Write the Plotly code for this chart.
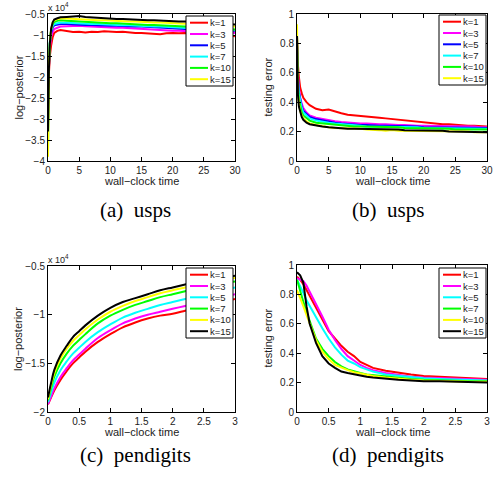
import plotly.graph_objects as go

W, H = 497, 478

# ---------------- data ----------------
T_USPS = [0, 0.05, 0.15, 0.3, 0.5, 0.75, 1, 1.5, 2, 3, 4, 5, 6, 7, 8, 9, 10, 11, 12, 13,
          14, 15, 16, 17, 18, 19, 20, 21, 22, 23, 24, 25, 26, 27, 28, 29, 30]

# (a) usps log-posterior (x 10^4)
A_K1 = [-2.3, -2.1, -1.8, -1.5, -1.25, -1.05, -0.95, -0.9, -0.88, -0.91, -0.93, -0.92, -0.94, -0.92,
        -0.93, -0.91, -0.92, -0.93, -0.92, -0.94, -0.95, -0.95, -0.96, -0.97, -0.98, -0.96, -0.95,
        -0.96, -0.95, -0.97, -0.96, -0.97, -0.98, -0.97, -0.99, -1.0, -1.03]
A_K3 = [-2.2, -2.0, -1.6, -1.3, -1.05, -0.92, -0.86, -0.82, -0.8, -0.79, -0.78, -0.78, -0.79, -0.8,
        -0.8, -0.81, -0.82, -0.83, -0.83, -0.84, -0.85, -0.86, -0.86, -0.87, -0.88, -0.89, -0.9,
        -0.9, -0.91, -0.91, -0.92, -0.92, -0.93, -0.93, -0.94, -0.94, -0.95]
A_K5 = [-2.3, -2.0, -1.55, -1.2, -0.95, -0.82, -0.77, -0.75, -0.74, -0.74, -0.75, -0.75, -0.76, -0.76,
        -0.77, -0.77, -0.78, -0.78, -0.79, -0.79, -0.8, -0.8, -0.81, -0.82, -0.83, -0.84, -0.85,
        -0.85, -0.86, -0.86, -0.87, -0.87, -0.88, -0.88, -0.89, -0.89, -0.9]
A_K7 = [-2.5, -2.1, -1.5, -1.15, -0.9, -0.78, -0.74, -0.72, -0.71, -0.71, -0.72, -0.72, -0.73, -0.74,
        -0.74, -0.75, -0.76, -0.76, -0.77, -0.77, -0.78, -0.78, -0.79, -0.8, -0.8, -0.81, -0.82,
        -0.82, -0.83, -0.84, -0.84, -0.85, -0.85, -0.86, -0.87, -0.87, -0.88]
A_K10 = [-3.8, -2.5, -1.7, -1.2, -0.88, -0.74, -0.69, -0.66, -0.65, -0.66, -0.67, -0.68, -0.68, -0.69,
         -0.7, -0.71, -0.72, -0.72, -0.73, -0.74, -0.74, -0.75, -0.76, -0.76, -0.77, -0.78, -0.78,
         -0.79, -0.8, -0.8, -0.81, -0.82, -0.83, -0.84, -0.85, -0.86, -0.87]
A_K15 = [-3.9, -2.8, -1.75, -1.2, -0.85, -0.7, -0.65, -0.62, -0.61, -0.61, -0.62, -0.62, -0.63, -0.64,
         -0.65, -0.65, -0.66, -0.67, -0.67, -0.68, -0.68, -0.69, -0.69, -0.7, -0.7, -0.71, -0.72,
         -0.72, -0.73, -0.73, -0.74, -0.75, -0.76, -0.77, -0.78, -0.79, -0.8]
A_BLACK = [-3.3, -2.6, -1.8, -1.2, -0.85, -0.7, -0.63, -0.6, -0.58, -0.57, -0.56, -0.55, -0.57, -0.58,
           -0.6, -0.6, -0.61, -0.62, -0.62, -0.63, -0.64, -0.64, -0.65, -0.65, -0.66, -0.66, -0.67,
           -0.68, -0.68, -0.69, -0.7, -0.7, -0.71, -0.72, -0.73, -0.74, -0.75]

# (b) usps testing error
B_K1 = [0.85, 0.75, 0.65, 0.57, 0.5, 0.46, 0.43, 0.4, 0.38, 0.355, 0.345, 0.35, 0.335, 0.325, 0.315,
        0.31, 0.305, 0.3, 0.3, 0.295, 0.29, 0.285, 0.28, 0.28, 0.275, 0.265, 0.26, 0.26, 0.255, 0.25,
        0.25, 0.245, 0.245, 0.24, 0.24, 0.235, 0.235]
B_K3 = [0.8, 0.7, 0.6, 0.5, 0.43, 0.39, 0.36, 0.33, 0.31, 0.295, 0.285, 0.275, 0.27, 0.265, 0.26,
        0.26, 0.255, 0.255, 0.25, 0.25, 0.25, 0.245, 0.245, 0.245, 0.24, 0.24, 0.24, 0.24, 0.24, 0.24,
        0.235, 0.235, 0.235, 0.235, 0.235, 0.23, 0.23]
B_K5 = [0.8, 0.68, 0.57, 0.47, 0.41, 0.37, 0.34, 0.32, 0.3, 0.285, 0.275, 0.265, 0.26, 0.255, 0.25,
        0.25, 0.245, 0.245, 0.24, 0.24, 0.24, 0.24, 0.235, 0.235, 0.235, 0.235, 0.23, 0.23, 0.23, 0.23,
        0.23, 0.225, 0.225, 0.225, 0.225, 0.225, 0.225]
B_K7 = [0.78, 0.66, 0.55, 0.46, 0.4, 0.36, 0.33, 0.31, 0.29, 0.275, 0.265, 0.26, 0.255, 0.25, 0.245,
        0.24, 0.24, 0.235, 0.235, 0.235, 0.235, 0.23, 0.23, 0.23, 0.23, 0.23, 0.225, 0.225, 0.225, 0.225,
        0.22, 0.22, 0.22, 0.22, 0.22, 0.22, 0.22]
B_K10 = [0.86, 0.62, 0.5, 0.42, 0.37, 0.33, 0.31, 0.29, 0.275, 0.26, 0.255, 0.25, 0.245, 0.24, 0.24,
         0.235, 0.235, 0.235, 0.23, 0.23, 0.23, 0.23, 0.23, 0.225, 0.225, 0.225, 0.225, 0.22, 0.22, 0.22,
         0.22, 0.215, 0.215, 0.215, 0.215, 0.215, 0.215]
B_K15 = [0.93, 0.6, 0.46, 0.39, 0.34, 0.31, 0.29, 0.27, 0.255, 0.245, 0.235, 0.23, 0.225, 0.225, 0.22,
         0.22, 0.22, 0.215, 0.215, 0.21, 0.205, 0.21, 0.205, 0.205, 0.205, 0.2, 0.205, 0.2, 0.2, 0.2,
         0.2, 0.2, 0.2, 0.2, 0.195, 0.195, 0.195]
B_BLACK = [0.85, 0.6, 0.45, 0.37, 0.33, 0.3, 0.28, 0.26, 0.25, 0.24, 0.235, 0.23, 0.225, 0.225, 0.22,
           0.22, 0.22, 0.22, 0.215, 0.22, 0.22, 0.215, 0.215, 0.21, 0.21, 0.21, 0.21, 0.205, 0.205,
           0.205, 0.2, 0.2, 0.2, 0.2, 0.2, 0.195, 0.195]

# (c) pendigits log-posterior (x 10^4)
T_PEN_C = [0, 0.05, 0.1, 0.2, 0.3, 0.4, 0.5, 0.6, 0.8, 1.0, 1.2, 1.4, 1.6, 1.8, 2.0, 2.2, 2.4, 2.6, 2.8, 3.0]
C_K1 = [-1.92, -1.85, -1.78, -1.67, -1.58, -1.5, -1.44, -1.38, -1.28, -1.2, -1.13, -1.08, -1.04, -1.01,
        -0.99, -0.96, -0.93, -0.9, -0.87, -0.84]
C_K3 = [-1.92, -1.84, -1.76, -1.64, -1.55, -1.47, -1.41, -1.35, -1.24, -1.16, -1.09, -1.04, -1.0, -0.97,
        -0.94, -0.91, -0.88, -0.85, -0.82, -0.79]
C_K5 = [-1.9, -1.8, -1.7, -1.57, -1.48, -1.4, -1.34, -1.28, -1.18, -1.1, -1.03, -0.98, -0.94, -0.9,
        -0.87, -0.84, -0.81, -0.78, -0.75, -0.72]
C_K7 = [-1.88, -1.75, -1.64, -1.5, -1.4, -1.32, -1.26, -1.2, -1.09, -1.01, -0.95, -0.9, -0.86, -0.82,
        -0.79, -0.76, -0.73, -0.71, -0.68, -0.66]
C_K10 = [-1.87, -1.72, -1.6, -1.45, -1.35, -1.27, -1.21, -1.15, -1.05, -0.97, -0.91, -0.86, -0.82, -0.78,
         -0.75, -0.72, -0.7, -0.67, -0.65, -0.62]
C_K15 = [-1.85, -1.7, -1.57, -1.42, -1.32, -1.23, -1.17, -1.11, -1.01, -0.93, -0.87, -0.83, -0.79, -0.75,
         -0.72, -0.69, -0.66, -0.64, -0.62, -0.6]

# (d) pendigits testing error
T_PEN_D = [0, 0.05, 0.1, 0.15, 0.2, 0.3, 0.4, 0.5, 0.6, 0.7, 0.8, 0.9, 1.0, 1.1, 1.2, 1.4, 1.6, 1.8,
           2.0, 2.25, 2.5, 2.75, 3.0]
D_K1 = [0.92, 0.9, 0.87, 0.83, 0.79, 0.7, 0.62, 0.55, 0.5, 0.45, 0.41, 0.38, 0.34, 0.32, 0.3, 0.28,
        0.265, 0.255, 0.245, 0.24, 0.235, 0.23, 0.225]
D_K3 = [0.91, 0.9, 0.89, 0.86, 0.82, 0.73, 0.65, 0.56, 0.49, 0.43, 0.38, 0.35, 0.32, 0.3, 0.285, 0.265,
        0.25, 0.24, 0.235, 0.23, 0.225, 0.225, 0.22]
D_K5 = [0.9, 0.86, 0.81, 0.76, 0.72, 0.64, 0.57, 0.5, 0.44, 0.39, 0.35, 0.33, 0.305, 0.29, 0.275, 0.255,
        0.245, 0.235, 0.23, 0.225, 0.22, 0.22, 0.215]
D_K7 = [0.9, 0.82, 0.75, 0.68, 0.62, 0.5, 0.43, 0.38, 0.34, 0.31, 0.29, 0.275, 0.265, 0.255, 0.25, 0.24,
        0.23, 0.225, 0.22, 0.215, 0.215, 0.21, 0.21]
D_K10 = [0.83, 0.78, 0.72, 0.66, 0.6, 0.49, 0.41, 0.36, 0.32, 0.3, 0.285, 0.27, 0.26, 0.25, 0.245, 0.235,
         0.225, 0.22, 0.215, 0.21, 0.21, 0.205, 0.205]
D_K15 = [0.95, 0.93, 0.88, 0.72, 0.6, 0.47, 0.38, 0.33, 0.3, 0.275, 0.265, 0.255, 0.25, 0.24, 0.235, 0.225,
         0.22, 0.215, 0.21, 0.21, 0.205, 0.205, 0.2]

LABELS = ["k=1", "k=3", "k=5", "k=7", "k=10", "k=15"]
COLORS_USPS = ["#FF0000", "#FF00FF", "#0000FF", "#00FFFF", "#00FF00", "#FFFF00"]
COLORS_PEN = ["#FF0000", "#FF00FF", "#00FFFF", "#00FF00", "#FFFF00", "#000000"]
CAPTIONS = ["(a)  usps", "(b)  usps", "(c)  pendigits", "(d)  pendigits"]
XTITLE = "wall\u2212clock time"
YTITLES = ["log\u2212posterior", "testing error", "log\u2212posterior", "testing error"]

# ---------------- layout helpers ----------------
def px_x(x):
    return x / W

def px_y(y):
    return 1 - y / H

# plot-area pixel boxes (left, right, top, bottom)
BOXES = [(48, 235, 14, 161), (297, 487, 14, 161), (48, 235, 266, 412), (297, 487, 265, 412)]

fig = go.Figure()

panels = [
    (T_USPS, [A_K1, A_K3, A_K5, A_K7, A_K10, A_K15], COLORS_USPS, A_BLACK),
    (T_USPS, [B_K1, B_K3, B_K5, B_K7, B_K10, B_K15], COLORS_USPS, B_BLACK),
    (T_PEN_C, [C_K1, C_K3, C_K5, C_K7, C_K10, C_K15], COLORS_PEN, None),
    (T_PEN_D, [D_K1, D_K3, D_K5, D_K7, D_K10, D_K15], COLORS_PEN, None),
]

for i, (t, series, cols, extra) in enumerate(panels):
    xa = "x" if i == 0 else f"x{i+1}"
    ya = "y" if i == 0 else f"y{i+1}"
    shape = "spline" if i == 2 else "linear"
    for lab, ys, c in zip(LABELS, series, cols):
        fig.add_trace(go.Scatter(x=t, y=ys, mode="lines", name=lab, xaxis=xa, yaxis=ya,
                                 line=dict(color=c, width=2, shape=shape), showlegend=False))
    if extra is not None:
        fig.add_trace(go.Scatter(x=t, y=extra, mode="lines", name="other", xaxis=xa, yaxis=ya,
                                 line=dict(color="#000000", width=2), showlegend=False))

TICKFONT = dict(family="Liberation Sans", size=10, color="#222")
TITLEFONT = dict(family="Liberation Sans", size=11, color="#222")

axis_common = dict(showline=True, linecolor="black", linewidth=1, mirror="ticks", ticks="inside",
                   ticklen=4, tickcolor="black", showgrid=False, zeroline=False, automargin=False,
                   tickfont=TICKFONT)

XRANGES = [[0, 30], [0, 30], [0, 3], [0, 3]]
YRANGES = [[-4, -0.5], [0, 1], [-2, -0.5], [0, 1]]
YDTICK = [0.5, 0.2, 0.5, 0.2]
XDTICK = [5, 5, 0.5, 0.5]

layout = {}
annotations = []
for i, (l, r, tp, bt) in enumerate(BOXES):
    sx = "xaxis" if i == 0 else f"xaxis{i+1}"
    sy = "yaxis" if i == 0 else f"yaxis{i+1}"
    ya = "y" if i == 0 else f"y{i+1}"
    xa = "x" if i == 0 else f"x{i+1}"
    layout[sx] = dict(axis_common, domain=[px_x(l), px_x(r)], range=XRANGES[i], dtick=XDTICK[i],
                      tick0=0, anchor=ya)
    layout[sy] = dict(axis_common, domain=[px_y(bt), px_y(tp)], range=YRANGES[i], dtick=YDTICK[i],
                      tick0=0, anchor=xa)
    # axis titles as text placed just outside the tick labels
    annotations.append(dict(text=XTITLE, xref="paper", yref="paper", x=px_x((l + r) / 2),
                            y=px_y(bt + 20.3), xanchor="center", yanchor="middle", showarrow=False,
                            borderpad=0, font=TITLEFONT))
    annotations.append(dict(text=YTITLES[i], xref="paper", yref="paper", x=px_x(l - 30),
                            y=px_y((tp + bt) / 2), xanchor="center", yanchor="middle", showarrow=False,
                            borderpad=0, textangle=-90, font=TITLEFONT))

fig.update_layout(**layout)

shapes = []

# compact legends (matching the MATLAB legend boxes)
LEG = [(186, 16, COLORS_USPS), (439, 15, COLORS_USPS), (186, 268, COLORS_PEN), (439, 268, COLORS_PEN)]
for (lx, ly, cols) in LEG:
    shapes.append(dict(type="rect", xref="paper", yref="paper", x0=px_x(lx), x1=px_x(lx + 47),
                       y0=px_y(ly + 70), y1=px_y(ly), line=dict(color="black", width=1),
                       fillcolor="white", layer="above"))
    for j, (lab, c) in enumerate(zip(LABELS, cols)):
        yy = ly + 6.7 + j * 11.3
        shapes.append(dict(type="line", xref="paper", yref="paper", x0=px_x(lx + 4), x1=px_x(lx + 22),
                           y0=px_y(yy), y1=px_y(yy), line=dict(color=c, width=2), layer="above"))
        annotations.append(dict(text=lab, xref="paper", yref="paper", x=px_x(lx + 22.5), y=px_y(yy),
                                xanchor="left", yanchor="middle", showarrow=False, borderpad=0,
                                font=dict(family="Liberation Sans", size=9.5, color="#222")))

# x 10^4 exponent labels
for (bx, by) in [(47, 0), (47, 252)]:
    annotations.append(dict(text="x 10<sup>4</sup>", xref="paper", yref="paper", x=px_x(bx), y=px_y(by),
                            xanchor="left", yanchor="top", showarrow=False, borderpad=0,
                            font=dict(family="Liberation Sans", size=9, color="#222")))

# captions
for cap, (cx, cy) in zip(CAPTIONS, [(135, 210), (388, 210), (135, 455), (388, 455)]):
    annotations.append(dict(text=cap, xref="paper", yref="paper", x=px_x(cx), y=px_y(cy),
                            xanchor="center", yanchor="middle", showarrow=False,
                            font=dict(family="Liberation Serif", size=21, color="black")))

fig.update_layout(width=W, height=H, margin=dict(l=0, r=0, t=0, b=0), autosize=False,
                  paper_bgcolor="white", plot_bgcolor="white", showlegend=False,
                  shapes=shapes, annotations=annotations)

fig.write_html("out.html", config={"displayModeBar": False},
               post_script="document.body.style.margin='0px';")
